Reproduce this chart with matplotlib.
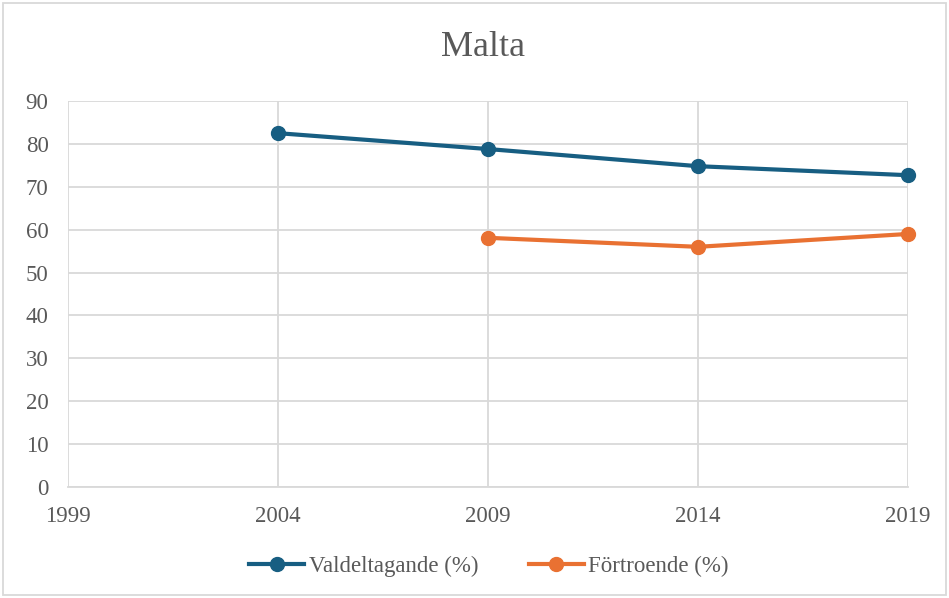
import matplotlib
matplotlib.use("Agg")
import matplotlib.pyplot as plt
from matplotlib.patches import Rectangle

years_v = [2004, 2009, 2014, 2019]
valdeltagande = [82.5, 78.8, 74.8, 72.7]
years_f = [2009, 2014, 2019]
fortroende = [58.1, 56.0, 59.0]
x_ticks = [1999, 2004, 2009, 2014, 2019]
y_ticks = [0, 10, 20, 30, 40, 50, 60, 70, 80, 90]

plt.rcParams['font.family'] = ['Liberation Serif', 'DejaVu Serif']
text_color = '#595959'
grid_color = '#d9d9d9'
blue = '#175E82'
orange = '#E97132'

fig = plt.figure(figsize=(9.49, 5.98), dpi=100)
ax = fig.add_axes([68/949, 1-487/598, (908-68)/949, (487-101)/598])

ax.plot(years_v, valdeltagande, color=blue, lw=3, marker='o', ms=10,
        label='Valdeltagande (%)', zorder=3, clip_on=False)
ax.plot(years_f, fortroende, color=orange, lw=3, marker='o', ms=10,
        label='Förtroende (%)', zorder=3, clip_on=False)

ax.set_xlim(1999, 2019)
ax.set_ylim(0, 90)
ax.set_xticks(x_ticks)
ax.set_yticks(y_ticks)
ax.grid(True, color=grid_color, lw=1.3)
ax.set_axisbelow(True)
for s in ['top', 'right', 'left']:
    ax.spines[s].set_visible(False)
ax.spines['bottom'].set_color(grid_color)
ax.spines['bottom'].set_linewidth(1.3)
ax.tick_params(length=0, labelsize=16.5, colors=text_color)
ax.tick_params(axis='x', pad=14)
ax.tick_params(axis='y', pad=14)

fig.text(483/949, 1-48/598, 'Malta', ha='center', va='center', fontsize=26, color=text_color)

leg = fig.legend(loc='center', bbox_to_anchor=(489/949, 1-566/598), ncol=2, frameon=False,
                 fontsize=16.5, handlelength=2.4, columnspacing=2.2, handletextpad=0.2)
for t in leg.get_texts():
    t.set_color(text_color)

fig.patches.append(Rectangle((3/949, 3/598), 1-6/949, 1-6/598, transform=fig.transFigure,
                             fill=False, edgecolor='#d9d9d9', lw=1.3))

fig.savefig('out.png', dpi=100, facecolor='white')
